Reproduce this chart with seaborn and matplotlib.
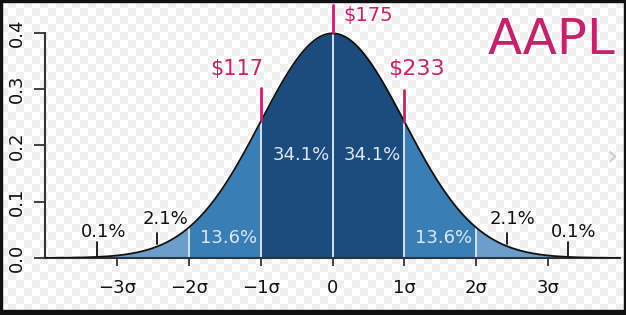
import numpy as np
import pandas as pd
import matplotlib
matplotlib.use("Agg")
import matplotlib.pyplot as plt
import seaborn as sns

# ---- data ----
mu, sigma = 0.0, 1.0
sigma_ticks = [-3, -2, -1, 0, 1, 2, 3]
sigma_tick_labels = ["\u22123\u03c3", "\u22122\u03c3", "\u22121\u03c3", "0", "1\u03c3", "2\u03c3", "3\u03c3"]
y_ticks = [0.0, 0.1, 0.2, 0.3, 0.4]
y_tick_labels = ["0.0", "0.1", "0.2", "0.3", "0.4"]
region_bounds = [(-4, -2), (-2, -1), (-1, 1), (1, 2), (2, 4)]
inner_pcts = ["34.1%", "34.1%", "13.6%", "13.6%"]
outer_pcts = ["2.1%", "0.1%", "2.1%", "0.1%"]
price_sigmas = [-1, 0, 1]
price_labels = ["$117", "$175", "$233"]
ticker = "AAPL"

# ---- style ----
sns.set_theme(style="white")
plt.rcParams["font.family"] = ["DejaVu Sans"]

W, H, DPI = 626, 315, 100
fig = plt.figure(figsize=(W / DPI, H / DPI), dpi=DPI)

# checkered transparent-look background
sq = 8
yy, xx = np.mgrid[0:H, 0:W]
checker = np.where(((xx // sq) + (yy // sq)) % 2 == 0, 1.0, 0.94)
bg = np.dstack([checker] * 3)
fig.figimage(bg, xo=0, yo=0, zorder=-10)

ax = fig.add_axes([45 / W, 1 - 258 / H, (620 - 45) / W, 236.5 / H])
ax.set_zorder(1)
ax.patch.set_alpha(0)

x = np.linspace(-4, 4, 801)
pdf = np.exp(-0.5 * ((x - mu) / sigma) ** 2) / (sigma * np.sqrt(2 * np.pi))
df = pd.DataFrame({"x": x, "pdf": pdf})

colors = ["#6d9dcb", "#3a7eb6", "#1c4b7d", "#3a7eb6", "#6d9dcb"]
for (a, b), c in zip(region_bounds, colors):
    m = (df.x >= a) & (df.x <= b)
    ax.fill_between(df.x[m], 0, df.pdf[m], color=c, lw=0, zorder=1)

for s in [-2, -1, 0, 1, 2]:
    v = np.exp(-0.5 * s ** 2) / np.sqrt(2 * np.pi)
    ax.plot([s, s], [0, v], color="#d5e3f1", lw=1.4, zorder=2)

sns.lineplot(data=df, x="x", y="pdf", ax=ax, color="#111111", lw=1.3, zorder=3)

ax.set_xlim(-4, 4)
ax.set_ylim(0, 0.42)
ax.set_xlabel("")
ax.set_ylabel("")
ax.set_xticks(sigma_ticks)
ax.set_xticklabels(sigma_tick_labels, fontsize=13, color="#111111")
ax.set_yticks(y_ticks)
ax.set_yticklabels(y_tick_labels, fontsize=13, color="#111111", rotation=90, va="center")
for sp in ["top", "right"]:
    ax.spines[sp].set_visible(False)
for sp in ["left", "bottom"]:
    ax.spines[sp].set_color("#333333")
    ax.spines[sp].set_linewidth(1.5)
ax.spines["left"].set_bounds(0, 0.4)
ax.tick_params(axis="y", length=8, width=1.3, color="#333333", pad=6, left=True)
ax.tick_params(axis="x", length=6, width=1.3, color="#333333", pad=9, bottom=True)

# percentage labels
pct_white = dict(color="#dce8f4", fontsize=13, ha="center", va="center", zorder=4)
ax.text(-0.44, 0.183, inner_pcts[0], **pct_white)
ax.text(0.55, 0.183, inner_pcts[1], **pct_white)
ax.text(-1.44, 0.0355, inner_pcts[2], **pct_white)
ax.text(1.55, 0.0355, inner_pcts[3], **pct_white)

pct_black = dict(color="#111111", fontsize=13, ha="center", va="center", zorder=4)
ax.text(-2.33, 0.069, outer_pcts[0], **pct_black)
ax.text(-3.19, 0.047, outer_pcts[1], **pct_black)
ax.text(2.51, 0.069, outer_pcts[2], **pct_black)
ax.text(3.35, 0.047, outer_pcts[3], **pct_black)
for xm, (y0, y1) in [(-2.44, (0.025, 0.045)), (-3.28, (0.004, 0.029)),
                     (2.43, (0.025, 0.045)), (3.28, (0.004, 0.029))]:
    ax.plot([xm, xm], [y0, y1], color="#111111", lw=1.3, zorder=4)

# handwritten-style annotations
mag = "#c1246b"
mark_spans = [(0.245, 0.302), (0.40, 0.449), (0.242, 0.298)]
for s, (y0, y1) in zip(price_sigmas, mark_spans):
    ax.plot([s, s], [y0, y1], color=mag, lw=2, clip_on=False, zorder=5)
ax.text(-1.33, 0.335, price_labels[0], color=mag, fontsize=15, ha="center", va="center", clip_on=False)
ax.text(0.50, 0.430, price_labels[1], color=mag, fontsize=14, ha="center", va="center", clip_on=False)
ax.text(1.17, 0.335, price_labels[2], color=mag, fontsize=16, ha="center", va="center", clip_on=False)
fig.text(552 / W, 1 - 40 / H, ticker, color=mag, fontsize=36, ha="center", va="center",
         family=["Liberation Sans Narrow", "DejaVu Sans"])

# screenshot artifacts
fig.text(612 / W, 1 - 157 / H, "\u203a", color="#cccccc", fontsize=20, ha="center", va="center")

# frame
k = "#111111"
fig.patches.append(plt.Rectangle((0, 1 - 2 / H), 1, 2 / H, transform=fig.transFigure, color=k, zorder=10))
fig.patches.append(plt.Rectangle((0, 0), 1, 5 / H, transform=fig.transFigure, color=k, zorder=10))
fig.patches.append(plt.Rectangle((0, 0), 1.5 / W, 1, transform=fig.transFigure, color=k, zorder=10))
fig.patches.append(plt.Rectangle((1 - 2 / W, 0), 2 / W, 1, transform=fig.transFigure, color=k, zorder=10))

fig.savefig("out.png", dpi=DPI)
